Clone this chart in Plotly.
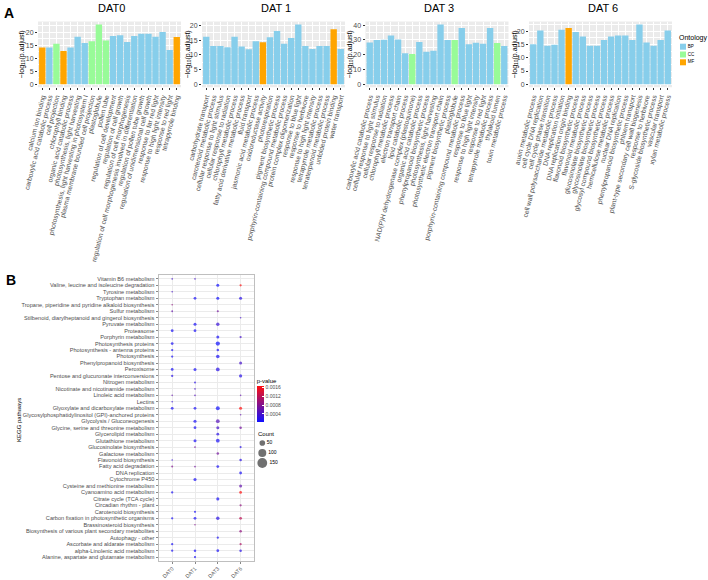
import math
import plotly.graph_objects as go

# ---------------- Panel A data (GO enrichment) ----------------
dat0_terms = ["calcium ion binding", "carboxylic acid catabolic process", "cell projection",
              "chlorophyll binding", "organic acid catabolic process", "photosynthesis, light harvesting",
              "photosynthesis, light harvesting in photosystem I", "plasma membrane bounded cell projection",
              "plastoglobule", "pollen tube", "regulation of cell development", "regulation of cell growth",
              "regulation of cell morphogenesis", "regulation of cell morphogenesis involved in differentiation",
              "regulation of pollen tube growth", "regulation of unidimensional cell growth",
              "response to far red light", "response to high light intensity", "response to red light",
              "tetrapyrrole binding"]
dat0_values = [14.2, 14.2, 15.6, 12.8, 14.2, 18.3, 15.9, 16.6, 23.0, 16.8,
               18.6, 18.9, 16.3, 18.6, 19.4, 19.4, 18.3, 20.1, 13.2, 18.2]
dat0_onto = ["MF", "BP", "CC", "MF", "BP", "BP", "BP", "CC", "CC", "CC",
             "BP", "BP", "BP", "BP", "BP", "BP", "BP", "BP", "BP", "MF"]

dat1_terms = ["carbohydrate transport", "carotenoid metabolic process", "cellular response to light stimulus",
              "cellular response to radiation", "chlorophyll metabolic process",
              "fatty acid derivative metabolic process", "fluid transport", "jasmonic acid metabolic process",
              "oxidoreductase activity", "photorespiration", "pigment biosynthetic process",
              "porphyrin-containing compound metabolic process", "protein complex oligomerization",
              "response to blue light", "response to herbivore", "response to high light intensity",
              "tetrapyrrole metabolic process", "tetraterpenoid metabolic process", "unfolded protein binding",
              "water transport"]
dat1_values = [16.1, 13.0, 13.0, 12.6, 16.1, 12.8, 11.9, 14.6, 14.3, 16.0,
               18.1, 13.8, 15.7, 20.3, 13.0, 12.0, 13.0, 13.0, 18.7, 12.0]
dat1_onto = ["BP", "BP", "BP", "BP", "BP", "BP", "BP", "BP", "MF", "BP",
             "BP", "BP", "BP", "BP", "BP", "BP", "BP", "BP", "MF", "BP"]

dat3_terms = ["carboxylic acid catabolic process", "cellular response to light stimulus",
              "cellular response to radiation", "chlorophyll metabolic process", "electron transport chain",
              "lipid catabolic process", "NAD(P)H dehydrogenase complex (plastoquinone)",
              "organic acid catabolic process", "phenylpropanoid biosynthetic process",
              "photosynthesis, light harvesting", "photosynthetic electron transport chain",
              "pigment biosynthetic process", "plastoglobule", "porphyrin-containing compound metabolic process",
              "response to blue light", "response to high light intensity", "response to red light",
              "tetrapyrrole metabolic process", "thylakoid lumen", "toxin metabolic process"]
dat3_values = [28.3, 29.9, 30.1, 33.0, 30.3, 20.9, 20.4, 28.5, 22.0, 22.7,
               40.4, 29.9, 29.9, 38.0, 27.0, 28.1, 27.4, 38.0, 27.9, 25.8]
dat3_onto = ["BP", "BP", "BP", "BP", "BP", "BP", "CC", "BP", "BP", "BP",
             "BP", "BP", "CC", "BP", "BP", "BP", "BP", "BP", "CC", "BP"]

dat6_terms = ["auxin metabolic process", "cell cycle DNA replication", "cell cycle phase transition",
              "cell wall polysaccharide metabolic process", "DNA replication initiation",
              "DNA replication origin binding", "flavonoid biosynthetic process", "flavonoid metabolic process",
              "glucosinolate biosynthetic process", "glycosinolate biosynthetic process",
              "glycosyl compound biosynthetic process", "hemicellulose metabolic process",
              "nuclear DNA replication", "phenylpropanoid biosynthetic process", "phloem transport",
              "plant-type secondary cell wall biogenesis", "response to herbivore",
              "S-glycoside biosynthetic process", "vascular transport", "xylan metabolic process"]
dat6_values = [15.1, 20.2, 14.5, 14.9, 20.5, 21.2, 19.7, 18.0, 14.5, 14.5,
               16.7, 18.0, 18.4, 18.4, 16.7, 22.5, 15.7, 14.5, 16.7, 20.2]
dat6_onto = ["BP", "BP", "BP", "BP", "BP", "MF", "BP", "BP", "BP", "BP",
             "BP", "BP", "BP", "BP", "BP", "BP", "BP", "BP", "BP", "BP"]

panel_titles = ["DAT0", "DAT 1", "DAT 3", "DAT 6"]
ontology_levels = ["BP", "CC", "MF"]
ontology_colors = {"BP": "#87CEEB", "CC": "#98FB98", "MF": "#FFA500"}

# ---------------- Panel B data (KEGG dot plot) ----------------
stages = ["DAT0", "DAT1", "DAT3", "DAT6"]
pathways = [
    "Vitamin B6 metabolism", "Valine, leucine and isoleucine degradation", "Tyrosine metabolism",
    "Tryptophan metabolism", "Tropane, piperidine and pyridine alkaloid biosynthesis", "Sulfur metabolism",
    "Stilbenoid, diarylheptanoid and gingerol biosynthesis", "Pyruvate metabolism", "Proteasome",
    "Porphyrin metabolism", "Photosynthesis proteins", "Photosynthesis - antenna proteins", "Photosynthesis",
    "Phenylpropanoid biosynthesis", "Peroxisome", "Pentose and glucuronate interconversions",
    "Nitrogen metabolism", "Nicotinate and nicotinamide metabolism", "Linoleic acid metabolism", "Lectins",
    "Glyoxylate and dicarboxylate metabolism", "Glycosylphosphatidylinositol (GPI)-anchored proteins",
    "Glycolysis / Gluconeogenesis", "Glycine, serine and threonine metabolism", "Glycerolipid metabolism",
    "Glutathione metabolism", "Glucosinolate biosynthesis", "Galactose metabolism", "Flavonoid biosynthesis",
    "Fatty acid degradation", "DNA replication", "Cytochrome P450", "Cysteine and methionine metabolism",
    "Cyanoamino acid metabolism", "Citrate cycle (TCA cycle)", "Circadian rhythm - plant",
    "Carotenoid biosynthesis", "Carbon fixation in photosynthetic organisms", "Brassinosteroid biosynthesis",
    "Biosynthesis of various plant secondary metabolites", "Autophagy - other",
    "Ascorbate and aldarate metabolism", "alpha-Linolenic acid metabolism",
    "Alanine, aspartate and glutamate metabolism"]

N = None
count_dat0 = [4, N, 4, N, 4, 5, N, N, 12, N, 12,
              8, 8, N, 12, 8, N, N, 4, 4, 12, N,
              N, N, N, N, N, N, 4, 6, N, N, N,
              8, N, N, N, 8, N, N, N, 8, 8, N]
p_dat0 = [0.0004, N, 0.0004, N, 0.0009, 0.0006, N, N, 0.0001, N, 0.0001,
          0.0001, 0.0001, N, 0.0001, 0.0002, N, N, 0.0006, 0.0003, 0.0001, N,
          N, N, N, N, N, N, 0.0003, 0.0008, N, N, N,
          0.0001, N, N, N, 0.0001, N, N, N, 0.0001, 0.0001, N]
count_dat1 = [4, N, N, 12, N, N, N, 14, 12, N, N,
              N, N, N, 14, N, 6, 4, 5, N, 12, N,
              15, 12, N, 14, 5, N, N, 5, N, 15, N,
              N, N, N, 7, 12, 4, N, N, N, 10, 8]
p_dat1 = [0.0004, N, N, 0.0001, N, N, N, 0.0001, 0.0001, N, N,
          N, N, N, 0.0001, N, 0.0002, 0.0004, 0.0005, N, 0.0001, N,
          0.0001, 0.0001, N, 0.0001, 0.0007, N, N, 0.0007, N, 0.0001, N,
          N, N, N, 0.0001, 0.0001, 0.0008, N, N, N, 0.0001, 0.0001]
count_dat3 = [N, 14, N, 14, N, 7, N, 18, N, 14, 28,
              10, 20, N, 22, N, N, N, N, N, 24, N,
              22, 14, 12, 22, N, 10, N, 12, N, N, N,
              N, 15, N, N, 18, N, N, 8, N, 12, N]
p_dat3 = [N, 0.00005, N, 0.00005, N, 0.0007, N, 0.0003, N, 0.0001, 0.00004,
          0.0001, 0.0001, N, 0.0002, N, N, N, N, N, 0.00005, N,
          0.0005, 0.0004, 0.0002, 0.0001, N, 0.0007, N, 0.0001, N, N, N,
          N, 0.0001, N, N, 0.0002, N, N, 0.0001, N, 0.0001, N]
count_dat6 = [N, 8, N, 14, N, N, 4, N, N, 8, N,
              N, N, 14, N, 16, N, N, 4, N, 14, 4,
              N, 10, N, N, 7, N, 10, N, 12, N, 14,
              12, N, 8, N, 12, N, 10, N, 8, 10, N]
p_dat6 = [N, 0.00165, N, 0.0002, N, N, 0.0004, N, N, 0.0004, N,
          N, N, 0.0004, N, 0.0002, N, N, 0.0006, N, 0.00165, 0.0006,
          N, 0.0007, N, N, 0.0002, N, 0.0002, N, 0.0001, N, 0.0006,
          0.00165, N, 0.0009, N, 0.0012, N, 0.0009, N, 0.0011, 0.0002, N]

count_legend_values = [50, 100, 150]
pvalue_ticks = [0.0004, 0.0008, 0.0012, 0.0016]

# ---------------- helpers ----------------
W, H = 708, 580
FONT = "Liberation Sans, Arial, sans-serif"
GREY30 = "#4D4D4D"


def fx(px):
    return px / W


def fy(py):
    return 1 - py / H


def dot_size(c):
    return 0.8 * math.sqrt(c)


fig = go.Figure()
layout = dict(width=W, height=H, autosize=False, margin=dict(l=0, r=0, t=0, b=0),
              paper_bgcolor="white", plot_bgcolor="white",
              font=dict(family=FONT, color="black"), showlegend=False, bargap=0.1)
shapes, annotations = [], []

# ---------------- Panel A ----------------
A_X = [(38, 181), (202, 345), (365.5, 508.5), (529, 672)]
A_Y = (21.5, 87.3)
ylab_x = [22, 188, 350, 515]
dticks = [5, 5, 10, 5]
panels = [(dat0_terms, dat0_values, dat0_onto), (dat1_terms, dat1_values, dat1_onto),
          (dat3_terms, dat3_values, dat3_onto), (dat6_terms, dat6_values, dat6_onto)]

for k, (terms, vals, onto) in enumerate(panels):
    suf = "" if k == 0 else str(k + 1)
    fig.add_trace(go.Bar(x=terms, y=vals, width=0.9,
                         marker=dict(color=[ontology_colors[o] for o in onto], line=dict(width=0)),
                         xaxis="x" + suf, yaxis="y" + suf, hoverinfo="x+y"))
    m = max(vals)
    layout["xaxis" + suf] = dict(domain=[fx(A_X[k][0]), fx(A_X[k][1])], anchor="y" + suf,
                                 type="category", range=[-0.6, len(terms) - 0.4],
                                 tickmode="linear", tick0=0, dtick=1, tickangle=-76,
                                 tickfont=dict(size=6.7, color=GREY30, family=FONT),
                                 ticks="outside", ticklen=2, tickwidth=0.5, tickcolor="#333333",
                                 showgrid=True, gridcolor="white", gridwidth=0.8,
                                 zeroline=False, showline=False, automargin=False)
    layout["yaxis" + suf] = dict(domain=[fy(A_Y[1]), fy(A_Y[0])], anchor="x" + suf,
                                 range=[-0.05 * m, 1.05 * m], tickmode="linear", tick0=0, dtick=dticks[k],
                                 tickfont=dict(size=7, color=GREY30, family=FONT),
                                 ticks="outside", ticklen=2, tickwidth=0.5, tickcolor="#333333",
                                 showgrid=True, gridcolor="white", gridwidth=0.8,
                                 minor=dict(dtick=dticks[k] / 2, showgrid=True, gridcolor="white",
                                            gridwidth=0.4),
                                 zeroline=False, showline=False, automargin=False)
    shapes.append(dict(type="rect", xref="x" + suf + " domain", yref="y" + suf + " domain",
                       x0=0, x1=1, y0=0, y1=1, fillcolor="#EBEBEB", line=dict(width=0), layer="below"))
    annotations.append(dict(text=panel_titles[k], x=fx((A_X[k][0] + A_X[k][1]) / 2 + 2), y=fy(7.5),
                            xref="paper", yref="paper", showarrow=False, xanchor="center", yanchor="middle",
                            font=dict(size=11, color="black", family=FONT)))
    annotations.append(dict(text="\u2212log<sub>10</sub>(p.adjust)", x=fx(ylab_x[k]),
                            y=fy((A_Y[0] + A_Y[1]) / 2), xref="paper", yref="paper", showarrow=False,
                            textangle=-90, xanchor="center", yanchor="middle",
                            font=dict(size=7, color="black", family=FONT)))

# Ontology legend (helper axes)
fig.add_trace(go.Scatter(x=[5, 5, 5], y=[0, 1, 2], mode="markers+text", text=ontology_levels,
                         textposition="middle right", textfont=dict(size=4.5, color="black", family=FONT),
                         marker=dict(symbol="square", size=6, color=[ontology_colors[o] for o in ontology_levels],
                                     line=dict(width=0)),
                         xaxis="x7", yaxis="y7", cliponaxis=False, hoverinfo="skip"))
layout["xaxis7"] = dict(domain=[fx(678), fx(708)], range=[0, 30], visible=False, anchor="y7", fixedrange=True)
layout["yaxis7"] = dict(domain=[fy(66.2), fy(42.8)], range=[2.5, -0.5], visible=False, anchor="x7",
                        fixedrange=True)
annotations.append(dict(text="Ontology", x=fx(677), y=fy(38), xref="paper", yref="paper", showarrow=False,
                        xanchor="left", yanchor="middle", font=dict(size=7, color="black", family=FONT)))

# ---------------- Panel B ----------------
n = len(pathways)
xs, ys, cs, ps = [], [], [], []
for stage, counts, pvals in zip(stages, [count_dat0, count_dat1, count_dat3, count_dat6],
                                [p_dat0, p_dat1, p_dat3, p_dat6]):
    for i, (c, p) in enumerate(zip(counts, pvals)):
        if c is None:
            continue
        xs.append(stage)
        ys.append(n - 1 - i)
        cs.append(c)
        ps.append(p)

colorscale = [[0, "#1010FF"], [1, "#FF1010"]]
fig.add_trace(go.Scatter(
    x=xs, y=ys, mode="markers", xaxis="x5", yaxis="y5",
    marker=dict(size=[dot_size(c) for c in cs], color=ps, colorscale=colorscale,
                cmin=min(ps), cmax=max(ps), line=dict(width=0),
                colorbar=dict(title=dict(text="p-value", side="top", font=dict(size=6, family=FONT)),
                              x=fx(256.7), xanchor="left", y=fy(375), yanchor="top",
                              len=47, lenmode="pixels", thickness=7, thicknessmode="pixels",
                              tickvals=pvalue_ticks, ticktext=[f"{v:.4f}" for v in pvalue_ticks],
                              tickfont=dict(size=5, color=GREY30, family=FONT),
                              ticks="inside", ticklen=2, tickcolor="white",
                              outlinewidth=0, xpad=0, ypad=0)),
    hoverinfo="x+y"))

B_X = (158.5, 254.3)
B_Y = (275, 561)
layout["xaxis5"] = dict(domain=[fx(B_X[0]), fx(B_X[1])], anchor="y5", type="category",
                        categoryorder="array", categoryarray=stages, range=[-0.6, len(stages) - 0.4],
                        tickangle=-45, tickfont=dict(size=5.3, color=GREY30, family=FONT),
                        ticks="outside", ticklen=1.5, tickwidth=0.5, tickcolor="#888888",
                        showgrid=True, gridcolor="#EBEBEB", gridwidth=0.5,
                        showline=True, mirror=True, linecolor="#BFBFBF", linewidth=1,
                        zeroline=False, automargin=False)
layout["yaxis5"] = dict(domain=[fy(B_Y[1]), fy(B_Y[0])], anchor="x5",
                        tickmode="array", tickvals=[n - 1 - i for i in range(n)], ticktext=pathways,
                        range=[-0.6, n - 0.4], tickfont=dict(size=5.6, color=GREY30, family=FONT),
                        ticks="outside", ticklen=2, tickwidth=0.5, tickcolor="#888888",
                        showgrid=True, gridcolor="#EBEBEB", gridwidth=0.5,
                        showline=True, mirror=True, linecolor="#BFBFBF", linewidth=1,
                        zeroline=False, automargin=False)
annotations.append(dict(text="KEGG pathways", x=fx(19), y=fy(420), xref="paper", yref="paper",
                        showarrow=False, textangle=-90, xanchor="center", yanchor="middle",
                        font=dict(size=6, color="black", family=FONT)))

# Count legend (helper axes)
fig.add_trace(go.Scatter(x=[7.3] * len(count_legend_values), y=list(range(len(count_legend_values))),
                         mode="markers+text", text=[str(v) for v in count_legend_values],
                         textposition="middle right", textfont=dict(size=5, color="black", family=FONT),
                         marker=dict(size=[dot_size(v) for v in count_legend_values], color="#333333",
                                     line=dict(width=0)),
                         xaxis="x6", yaxis="y6", cliponaxis=False, hoverinfo="skip"))
layout["xaxis6"] = dict(domain=[fx(255), fx(290)], range=[0, 35], visible=False, anchor="y6", fixedrange=True)
layout["yaxis6"] = dict(domain=[fy(468), fy(438)], range=[2.5, -0.5], visible=False, anchor="x6",
                        fixedrange=True)
annotations.append(dict(text="Count", x=fx(256), y=fy(434), xref="paper", yref="paper", showarrow=False,
                        xanchor="left", yanchor="middle", font=dict(size=6, color="black", family=FONT)))

# Panel letters
annotations.append(dict(text="<b>A</b>", x=fx(2), y=fy(13), xref="paper", yref="paper", showarrow=False,
                        xanchor="left", yanchor="middle", font=dict(size=14, color="black", family=FONT)))
annotations.append(dict(text="<b>B</b>", x=fx(4), y=fy(280), xref="paper", yref="paper", showarrow=False,
                        xanchor="left", yanchor="middle", font=dict(size=14, color="black", family=FONT)))

layout["shapes"] = shapes
layout["annotations"] = annotations
fig.update_layout(**layout)
fig.write_html("out.html")
